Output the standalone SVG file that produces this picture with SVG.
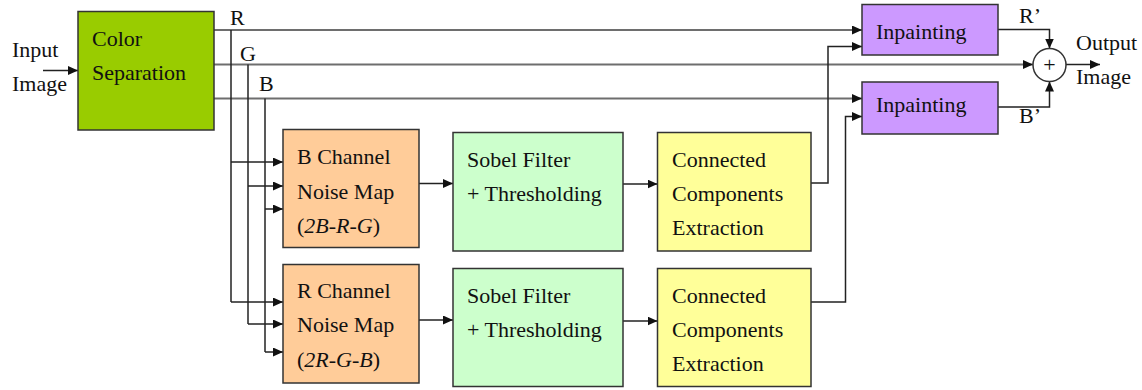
<svg xmlns="http://www.w3.org/2000/svg" width="1142" height="390" viewBox="0 0 1142 390">
  <defs>
    <marker id="arrow" markerUnits="userSpaceOnUse" markerWidth="11" markerHeight="9" refX="10" refY="4.5" orient="auto">
      <path d="M0,0 L10,4.5 L0,9 z" fill="#111"/>
    </marker>
    <style>
      text { font-family: 'Liberation Serif', 'DejaVu Serif', serif; font-size: 22px; fill: #111; }
      .box { stroke: #333; stroke-width: 1.5; }
      .sep { fill: #99cc00; }
      .noise { fill: #ffcc99; }
      .sobel { fill: #ccffcc; }
      .cc { fill: #ffff99; }
      .inp { fill: #cc99ff; }
      .wire { fill: none; stroke: #222; stroke-width: 1.5; }
      .bus { fill: none; stroke: #6e6e6e; stroke-width: 2; }
      .arr { marker-end: url(#arrow); }
      .it { font-style: italic; }
    </style>
  </defs>
  <rect width="1142" height="390" fill="#ffffff"/>

  <!-- free labels -->
  <g id="labels" font-family="Liberation Serif, serif">
    <text x="12" y="57">Input</text>
    <text x="12" y="91">Image</text>
    <text x="230" y="25">R</text>
    <text x="240" y="61">G</text>
    <text x="259" y="91">B</text>
    <text x="1019" y="23">R’</text>
    <text x="1019" y="123">B’</text>
    <text x="1076" y="50">Output</text>
    <text x="1076" y="84">Image</text>
  </g>

  <!-- connectors -->
  <g id="connectors">
    <path class="wire arr" d="M43,70.5 H78"/>
    <path class="bus arr" d="M214,30 H862"/>
    <path class="bus arr" d="M214,64.5 H1033"/>
    <path class="bus arr" d="M214,98.5 H862"/>
    <path class="wire" d="M231,30 V302"/>
    <path class="wire" d="M248,64.5 V324"/>
    <path class="wire" d="M265,98.5 V352"/>
    <path class="wire arr" d="M231,162 H283"/>
    <path class="wire arr" d="M248,186 H283"/>
    <path class="wire arr" d="M265,209 H283"/>
    <path class="wire arr" d="M231,302 H283"/>
    <path class="wire arr" d="M248,324 H283"/>
    <path class="wire arr" d="M265,352 H283"/>
    <path class="wire arr" d="M419,183.5 H453"/>
    <path class="wire arr" d="M419,320 H453"/>
    <path class="wire arr" d="M623,184 H657.5"/>
    <path class="wire arr" d="M623,321 H657.5"/>
    <path class="wire arr" d="M811,183 H828 V46.5 H862"/>
    <path class="wire arr" d="M811,302 H845.5 V116.5 H862"/>
    <path class="wire arr" d="M998,29.5 H1049.5 V48.5"/>
    <path class="wire arr" d="M998,107 H1049.5 V81.5"/>
    <path class="wire arr" d="M1066,64.5 H1100"/>
  </g>

  <g id="color-separation">
    <rect class="box sep" x="78" y="11.5" width="136" height="118.5"/>
    <text x="92" y="46">Color</text>
    <text x="92" y="80">Separation</text>
  </g>

  <g id="b-noise-map">
    <rect class="box noise" x="283" y="129.5" width="136" height="118"/>
    <text x="297" y="164">B Channel</text>
    <text x="297" y="199">Noise Map</text>
    <text x="297" y="233">(<tspan class="it">2B-R-G</tspan>)</text>
  </g>

  <g id="r-noise-map">
    <rect class="box noise" x="283" y="264.5" width="136" height="118.5"/>
    <text x="297" y="298">R Channel</text>
    <text x="297" y="332">Noise Map</text>
    <text x="297" y="367">(<tspan class="it">2R-G-B</tspan>)</text>
  </g>

  <g id="sobel-1">
    <rect class="box sobel" x="453" y="132.5" width="170" height="118.5"/>
    <text x="467" y="167">Sobel Filter</text>
    <text x="467" y="201">+ Thresholding</text>
  </g>

  <g id="sobel-2">
    <rect class="box sobel" x="453" y="268.5" width="170" height="118"/>
    <text x="467" y="303">Sobel Filter</text>
    <text x="467" y="337">+ Thresholding</text>
  </g>

  <g id="components-1">
    <rect class="box cc" x="657.5" y="132.5" width="153.5" height="118.5"/>
    <text x="672" y="167">Connected</text>
    <text x="672" y="201">Components</text>
    <text x="672" y="235">Extraction</text>
  </g>

  <g id="components-2">
    <rect class="box cc" x="657.5" y="268.5" width="153.5" height="118"/>
    <text x="672" y="303">Connected</text>
    <text x="672" y="337">Components</text>
    <text x="672" y="371">Extraction</text>
  </g>

  <g id="inpainting-r">
    <rect class="box inp" x="862" y="4.5" width="136" height="50.5"/>
    <text x="876" y="39">Inpainting</text>
  </g>

  <g id="inpainting-b">
    <rect class="box inp" x="862" y="82" width="136" height="52"/>
    <text x="876" y="112">Inpainting</text>
  </g>

  <g id="sum">
    <circle cx="1049.5" cy="65" r="16.5" fill="#ffffff" stroke="#333" stroke-width="1.5"/>
    <text x="1049.5" y="72" text-anchor="middle">+</text>
  </g>
</svg>
